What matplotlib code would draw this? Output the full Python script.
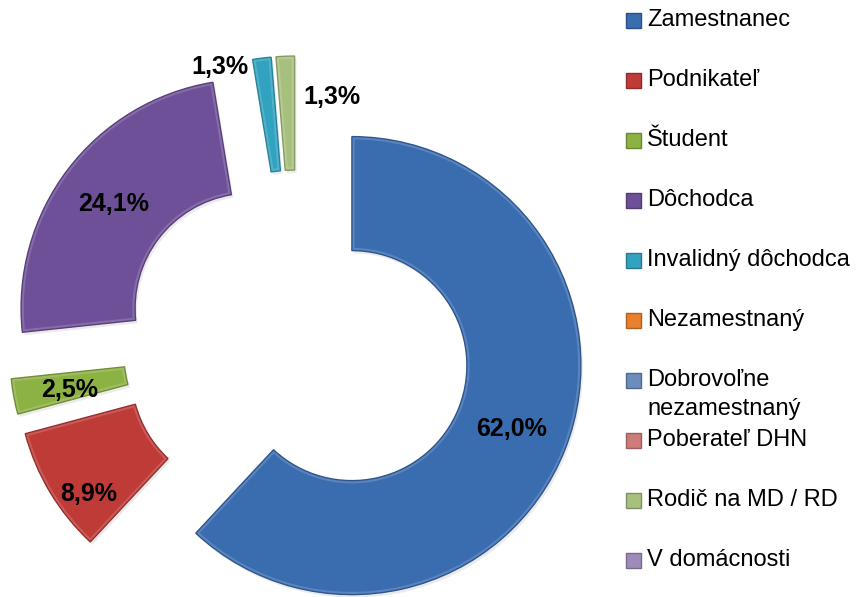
import matplotlib
matplotlib.use('Agg')
import matplotlib.pyplot as plt
import matplotlib.colors as mcolors
from matplotlib.patches import Rectangle, Wedge
import numpy as np

categories = ['Zamestnanec', 'Podnikateľ', 'Študent', 'Dôchodca', 'Invalidný dôchodca',
              'Nezamestnaný', 'Dobrovoľne nezamestnaný', 'Poberateľ DHN',
              'Rodič na MD / RD', 'V domácnosti']
values = [62.0, 8.9, 2.5, 24.1, 1.3, 0.0, 0.0, 0.0, 1.3, 0.0]
value_labels = ['62,0%', '8,9%', '2,5%', '24,1%', '1,3%', '', '', '', '1,3%', '']
colors = ['#3A6CB0', '#BE3B38', '#8DB244', '#6E5098', '#31A2C0',
          '#E8802E', '#6C8CBC', '#CD7C7A', '#A8C07E', '#9D8CBA']

W, H = 858, 597
fig = plt.figure(figsize=(W / 100, H / 100), dpi=100)
ax = fig.add_axes([0, 0, 1, 1])

R = 229          # outer radius in px
RING = 114       # ring width in px
EXPLODE = 59     # explode distance in px
CX, CY = 297, H - 344

def Y(y):
    return H - y

def darker(c, f=0.72):
    r, g, b = mcolors.to_rgb(c)
    return (r * f, g * f, b * f)

def lighter(c, f=0.45):
    r, g, b = mcolors.to_rgb(c)
    return (r + (1 - r) * f, g + (1 - g) * f, b + (1 - b) * f)

wedges, _ = ax.pie(values, colors=colors, radius=R, center=(CX, CY), startangle=90,
                   counterclock=False, explode=[EXPLODE] * len(values),
                   wedgeprops=dict(width=RING, linewidth=0), normalize=True)

for w, v, c in zip(wedges, values, colors):
    if v == 0:
        w.set_visible(False)
        continue
    w.set_zorder(2)
    # soft shadow
    sh = Wedge((w.center[0] + 2, w.center[1] - 3), w.r, w.theta1, w.theta2, width=w.width,
               facecolor='#000000', alpha=0.08, linewidth=0, zorder=1)
    ax.add_patch(sh)
    # bevel highlight (inner rim)
    hl = Wedge(w.center, w.r, w.theta1, w.theta2, width=w.width, facecolor='none',
               edgecolor=lighter(c, 0.3), linewidth=4, alpha=0.55, zorder=3)
    ax.add_patch(hl)
    hl.set_clip_path(w)
    ol = Wedge(w.center, w.r, w.theta1, w.theta2, width=w.width, facecolor='none',
               edgecolor=darker(c, 0.8), linewidth=1.0, zorder=4)
    ax.add_patch(ol)

# value labels
label_shift = {'Podnikateľ': (-10, 31), 'Študent': (0, 4)}
label_override = {4: (220, 67), 8: (332, 97)}
for i, (w, v, txt) in enumerate(zip(wedges, values, value_labels)):
    if v == 0 or not txt:
        continue
    if i in label_override:
        x, y = label_override[i]
        y = Y(y)
    else:
        ang = np.deg2rad((w.theta1 + w.theta2) / 2)
        rr = w.r - w.width / 2
        x = w.center[0] + rr * np.cos(ang)
        y = w.center[1] + rr * np.sin(ang)
        dx, dy = label_shift.get(categories[i], (0, 0))
        x += dx
        y -= dy
    ax.text(x, y, txt, ha='center', va='center', fontsize=18, fontweight='bold',
            family='Liberation Sans', color='black', zorder=6)

# legend
leg_y0, leg_dy = 20, 60
for i, (cat, c) in enumerate(zip(categories, colors)):
    yc = leg_y0 + leg_dy * i
    ax.add_patch(Rectangle((626, Y(yc) - 7.5), 15, 15, facecolor=c,
                           edgecolor=darker(c, 0.75), linewidth=1.0, zorder=5))
    lines = cat.split(' ', 1) if len(cat) > 20 else [cat]
    for j, line in enumerate(lines):
        ax.text(647, Y(yc + 29 * j), line, ha='left', va='center', fontsize=17,
                family='Liberation Sans', color='black', zorder=6)

ax.set_xlim(0, W)
ax.set_ylim(0, H)
ax.set_aspect('equal')
ax.axis('off')
fig.savefig('out.png', dpi=100, facecolor='white')
